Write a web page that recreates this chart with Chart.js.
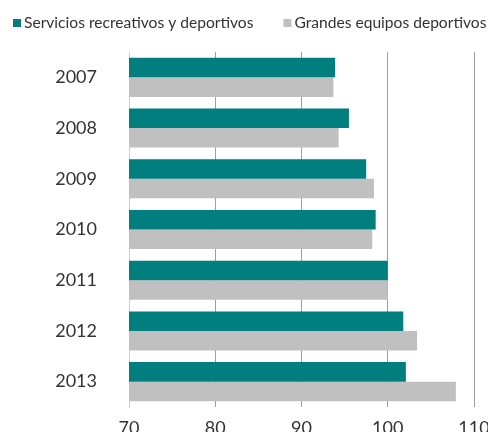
<!DOCTYPE html>
<html>
<head>
<meta charset="utf-8">
<script src="https://cdn.jsdelivr.net/npm/chart.js@4"></script>
<style>
html,body{margin:0;padding:0;background:#fff;}
#wrap{width:488px;height:432px;position:relative;}
</style>
</head>
<body>
<div id="wrap"><canvas id="c" width="488" height="432"></canvas></div>
<script>
const years = ['2007','2008','2009','2010','2011','2012','2013'];
const serviciosValues = [93.9, 95.5, 97.5, 98.6, 100.0, 101.8, 102.1];
const grandesValues = [93.7, 94.3, 98.4, 98.2, 100.0, 103.4, 107.9];
const seriesLabels = ['Servicios recreativos y deportivos', 'Grandes equipos deportivos'];
const xTicks = [70, 80, 90, 100, 110];

const FONT = 'Lato, "Open Sans", sans-serif';
const TEXT = '#333333';

const legendPlugin = {
  id: 'customLegend',
  afterDraw(chart) {
    const ctx = chart.ctx;
    ctx.save();
    ctx.font = '15.6px ' + FONT;
    ctx.textBaseline = 'middle';
    ctx.textAlign = 'left';
    let x = 13;
    const y = 23;
    chart.data.datasets.forEach((ds) => {
      ctx.fillStyle = ds.backgroundColor;
      ctx.fillRect(x, y - 4, 8, 8);
      ctx.fillStyle = TEXT;
      ctx.fillText(ds.label, x + 11, y);
      x += 11 + ctx.measureText(ds.label).width + 30;
    });
    ctx.restore();
  }
};

new Chart(document.getElementById('c'), {
  type: 'bar',
  data: {
    labels: years,
    datasets: [
      { label: seriesLabels[0], data: serviciosValues, backgroundColor: '#007f7e', borderWidth: 0 },
      { label: seriesLabels[1], data: grandesValues, backgroundColor: '#c0c0c0', borderWidth: 0 }
    ]
  },
  options: {
    indexAxis: 'y',
    responsive: false,
    animation: false,
    layout: { padding: { top: 52, right: 14, left: 0, bottom: 0 } },
    datasets: { bar: { categoryPercentage: 0.77, barPercentage: 1.0 } },
    plugins: { legend: { display: false }, tooltip: { enabled: false } },
    scales: {
      x: {
        min: 70, max: 110,
        afterBuildTicks(scale) { scale.ticks = xTicks.map(v => ({ value: v })); },
        afterFit(scale) { scale.height = 25; scale.paddingLeft = 0; scale.paddingRight = 0; scale.paddingTop = 0; scale.paddingBottom = 0; },
        grid: { color: '#a0a0a0', lineWidth: 1, drawTicks: false },
        border: { display: false },
        ticks: { font: { family: FONT, size: 18 }, color: TEXT, padding: 10, maxRotation: 0 }
      },
      y: {
        afterFit(scale) { scale.width = 129; scale.paddingTop = 0; scale.paddingBottom = 0; scale.paddingLeft = 0; scale.paddingRight = 0; },
        grid: { display: false, drawTicks: false },
        border: { display: true, color: '#d0d0d0', width: 1 },
        ticks: { font: { family: FONT, size: 18 }, color: TEXT, padding: 32 }
      }
    }
  },
  plugins: [legendPlugin]
});
</script>
</body>
</html>
